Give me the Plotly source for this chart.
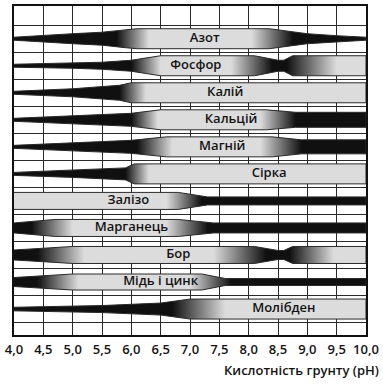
import plotly.graph_objects as go

# ---- data ----
nutrients = ["Азот", "Фосфор", "Калій", "Кальцій", "Магній", "Сірка",
             "Залізо", "Марганець", "Бор", "Мідь і цинк", "Молібден"]
label_ph = [7.25, 7.1, 7.6, 7.7, 7.55, 8.35, 5.95, 6.0, 6.8, 6.5, 8.6]

# band thickness (1 = full) at given pH values
width_ph = [
    [4.0, 4.5, 5.0, 5.5, 5.9, 6.1, 8.35, 9.0, 9.5, 10.0],
    [4.0, 5.0, 5.5, 6.0, 6.5, 8.1, 8.5, 8.6, 8.75, 10.0],
    [4.0, 5.0, 5.8, 6.0, 10.0],
    [4.0, 5.0, 6.0, 6.5, 8.3, 8.8, 10.0],
    [4.0, 5.0, 6.0, 6.6, 8.4, 8.9, 10.0],
    [4.0, 5.0, 5.9, 6.05, 10.0],
    [4.0, 6.8, 7.3, 10.0],
    [4.0, 4.7, 6.8, 7.4, 10.0],
    [4.0, 5.0, 8.1, 8.5, 8.6, 8.75, 10.0],
    [4.0, 5.0, 7.2, 7.6, 10.0],
    [4.0, 5.5, 6.5, 7.0, 10.0],
]
width_val = [
    [0.15, 0.35, 0.5, 0.65, 0.9, 1.0, 1.0, 0.5, 0.3, 0.15],
    [0.15, 0.25, 0.35, 0.55, 1.0, 1.0, 0.55, 0.55, 1.0, 1.0],
    [0.15, 0.4, 0.75, 1.0, 1.0],
    [0.15, 0.4, 0.65, 1.0, 1.0, 0.75, 0.75],
    [0.15, 0.4, 0.65, 1.0, 1.0, 0.7, 0.7],
    [0.15, 0.35, 0.6, 1.0, 1.0],
    [0.85, 0.85, 0.4, 0.4],
    [0.5, 0.85, 0.85, 0.5, 0.5],
    [0.5, 0.85, 0.85, 0.45, 0.45, 0.85, 0.85],
    [0.45, 0.8, 0.8, 0.35, 0.35],
    [0.18, 0.35, 0.6, 1.0, 1.0],
]
# shade (1 = black, 0 = light grey) at given pH values
shade_ph = [
    [4.0, 5.75, 6.3, 8.05, 8.75, 10.0],
    [4.0, 6.0, 6.5, 7.7, 8.4, 8.65, 9.5, 10.0],
    [4.0, 5.8, 6.25, 10.0],
    [4.0, 6.0, 6.45, 8.2, 8.8, 10.0],
    [4.0, 6.1, 6.7, 8.2, 8.9, 10.0],
    [4.0, 5.9, 6.3, 10.0],
    [4.0, 6.6, 7.2, 10.0],
    [4.0, 4.3, 5.0, 6.6, 7.3, 10.0],
    [4.0, 4.4, 5.2, 7.4, 8.3, 8.7, 9.45, 10.0],
    [4.0, 4.4, 5.1, 7.0, 7.7, 10.0],
    [4.0, 6.7, 7.6, 10.0],
]
shade_val = [
    [1, 1, 0, 0, 1, 1],
    [1, 1, 0, 0, 1, 1, 0, 0],
    [1, 1, 0, 0],
    [1, 1, 0, 0, 1, 1],
    [1, 1, 0, 0, 1, 1],
    [1, 1, 0, 0],
    [0, 0, 1, 1],
    [1, 1, 0, 0, 1, 1],
    [1, 1, 0, 0, 1, 1, 0, 0],
    [1, 1, 0, 0, 1, 1],
    [1, 1, 0, 0],
]
tick_ph = [4.0, 4.5, 5.0, 5.5, 6.0, 6.5, 7.0, 7.5, 8.0, 8.5, 9.0, 9.5, 10.0]
tick_text = ["4,0", "4,5", "5,0", "5,5", "6,0", "6,5", "7,0", "7,5",
             "8,0", "8,5", "9,0", "9,5", "10,0"]
x_title = "Кислотність грунту (pH)"

# ---- style ----
HALF = 0.37          # half of the full band thickness, in row units
DARK = (16, 16, 16)
LIGHT = (220, 220, 220)
FONT = "Open Sans"


def shade_color(s):
    c = [round(LIGHT[i] + (DARK[i] - LIGHT[i]) * s) for i in range(3)]
    return f"rgb({c[0]},{c[1]},{c[2]})"


fig = go.Figure()
for k, name in enumerate(nutrients):
    xs = width_ph[k] + width_ph[k][::-1]
    ys = [k - HALF * w for w in width_val[k]] + [k + HALF * w for w in width_val[k][::-1]]
    scale = [[(p - 4.0) / 6.0, shade_color(s)] for p, s in zip(shade_ph[k], shade_val[k])]
    fig.add_trace(go.Scatter(
        x=xs, y=ys, mode="lines", fill="toself",
        line=dict(color="#2a2a2a", width=1),
        fillgradient=dict(type="horizontal", colorscale=scale, start=4.0, stop=10.0),
        hoverinfo="skip", showlegend=False,
    ))

fig.add_trace(go.Scatter(
    x=label_ph, y=list(range(len(nutrients))), mode="text", text=nutrients,
    textfont=dict(family=FONT, size=13, color="#141414", weight=600),
    hoverinfo="skip", showlegend=False,
))

fig.add_annotation(
    text=x_title, xref="paper", yref="paper", x=1.042, y=-0.072,
    xanchor="right", yanchor="top", showarrow=False,
    font=dict(family=FONT, size=13, color="#141414", weight=600),
)

fig.update_xaxes(
    range=[4.0, 10.0], tickvals=tick_ph, ticktext=tick_text,
    showgrid=True, gridcolor="#2a2a2a", gridwidth=1.3,
    showline=True, mirror=True, linecolor="#111111", linewidth=2,
    zeroline=False, ticks="", ticklabelstandoff=1,
    tickfont=dict(family=FONT, size=13, color="#141414", weight=600),
)
fig.update_yaxes(
    range=[10.96, -1.21], tickvals=[i - 0.5 for i in range(len(nutrients) + 1)],
    showticklabels=False, showgrid=True, gridcolor="#2a2a2a", gridwidth=1.3,
    showline=True, mirror=True, linecolor="#111111", linewidth=2,
    zeroline=False, ticks="",
)
fig.update_layout(
    width=383, height=385,
    margin=dict(l=14, r=17, t=4, b=50),
    paper_bgcolor="white", plot_bgcolor="white",
)
fig.write_html("out.html")
